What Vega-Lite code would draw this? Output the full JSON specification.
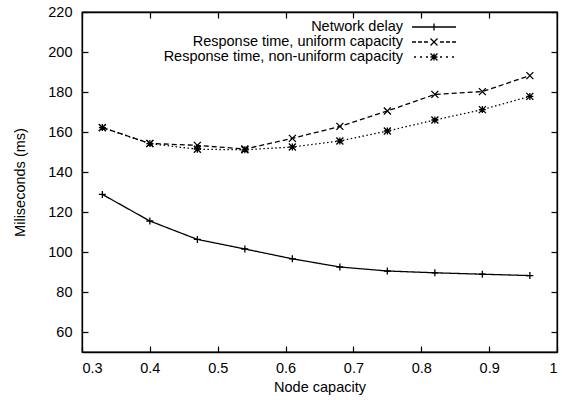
{
  "$schema": "https://vega.github.io/schema/vega-lite/v6.json",
  "width": 475,
  "height": 340,
  "autosize": {"type": "none"},
  "padding": {"left": 82, "top": 12, "right": 5, "bottom": 48},
  "background": "white",
  "config": {
    "font": "Liberation Sans",
    "view": {"stroke": "black", "strokeWidth": 1.3},
    "axis": {
      "grid": false,
      "domainColor": "black",
      "domainWidth": 1.3,
      "tickColor": "black",
      "tickWidth": 1.2,
      "tickSize": -6,
      "labelFont": "Liberation Sans",
      "labelFontSize": 14.5,
      "labelColor": "black",
      "titleFont": "Liberation Sans",
      "titleFontSize": 14.5,
      "titleFontWeight": "normal",
      "titleColor": "black"
    },
    "legend": {"padding": 0}
  },
  "data": {
    "values": [
      {"capacity": 0.33, "ms": 128.8, "series": "Network delay"},
      {"capacity": 0.40, "ms": 115.5, "series": "Network delay"},
      {"capacity": 0.47, "ms": 106.3, "series": "Network delay"},
      {"capacity": 0.54, "ms": 101.5, "series": "Network delay"},
      {"capacity": 0.61, "ms": 96.6, "series": "Network delay"},
      {"capacity": 0.68, "ms": 92.5, "series": "Network delay"},
      {"capacity": 0.75, "ms": 90.5, "series": "Network delay"},
      {"capacity": 0.82, "ms": 89.6, "series": "Network delay"},
      {"capacity": 0.89, "ms": 88.9, "series": "Network delay"},
      {"capacity": 0.96, "ms": 88.2, "series": "Network delay"},
      {"capacity": 0.33, "ms": 162.2, "series": "Response time, uniform capacity"},
      {"capacity": 0.40, "ms": 154.3, "series": "Response time, uniform capacity"},
      {"capacity": 0.47, "ms": 153.3, "series": "Response time, uniform capacity"},
      {"capacity": 0.54, "ms": 151.5, "series": "Response time, uniform capacity"},
      {"capacity": 0.61, "ms": 156.8, "series": "Response time, uniform capacity"},
      {"capacity": 0.68, "ms": 162.8, "series": "Response time, uniform capacity"},
      {"capacity": 0.75, "ms": 170.5, "series": "Response time, uniform capacity"},
      {"capacity": 0.82, "ms": 178.8, "series": "Response time, uniform capacity"},
      {"capacity": 0.89, "ms": 180.2, "series": "Response time, uniform capacity"},
      {"capacity": 0.96, "ms": 188.2, "series": "Response time, uniform capacity"},
      {"capacity": 0.33, "ms": 162.2, "series": "Response time, non-uniform capacity"},
      {"capacity": 0.40, "ms": 154.2, "series": "Response time, non-uniform capacity"},
      {"capacity": 0.47, "ms": 151.4, "series": "Response time, non-uniform capacity"},
      {"capacity": 0.54, "ms": 151.1, "series": "Response time, non-uniform capacity"},
      {"capacity": 0.61, "ms": 152.5, "series": "Response time, non-uniform capacity"},
      {"capacity": 0.68, "ms": 155.5, "series": "Response time, non-uniform capacity"},
      {"capacity": 0.75, "ms": 160.5, "series": "Response time, non-uniform capacity"},
      {"capacity": 0.82, "ms": 166.0, "series": "Response time, non-uniform capacity"},
      {"capacity": 0.89, "ms": 171.2, "series": "Response time, non-uniform capacity"},
      {"capacity": 0.96, "ms": 177.8, "series": "Response time, non-uniform capacity"}
    ]
  },
  "layer": [
    {
      "mark": {"type": "line", "color": "black", "strokeWidth": 1.3},
      "encoding": {
        "x": {
          "field": "capacity", "type": "quantitative",
          "scale": {"domain": [0.3, 1], "nice": false, "zero": false},
          "axis": {"orient": "bottom", "values": [0.3, 0.4, 0.5, 0.6, 0.7, 0.8, 0.9, 1], "format": "~g", "title": "Node capacity", "labelPadding": 15, "titlePadding": 6}
        },
        "y": {
          "field": "ms", "type": "quantitative",
          "scale": {"domain": [50, 220], "nice": false, "zero": false},
          "axis": {"orient": "left", "values": [60, 80, 100, 120, 140, 160, 180, 200, 220], "title": "Miliseconds (ms)", "labelPadding": 16, "titlePadding": 20}
        },
        "strokeDash": {
          "field": "series", "type": "nominal",
          "scale": {
            "domain": ["Network delay", "Response time, uniform capacity", "Response time, non-uniform capacity"],
            "range": [[1, 0], [5, 3], [1.5, 2.5]]
          },
          "legend": null
        }
      }
    },
    {
      "mark": {"type": "point", "filled": false, "stroke": "black", "strokeWidth": 1.3, "size": 49, "opacity": 1},
      "encoding": {
        "x": {
          "field": "capacity", "type": "quantitative",
          "axis": {"orient": "top", "values": [0.3, 0.4, 0.5, 0.6, 0.7, 0.8, 0.9, 1], "labels": false, "title": null}
        },
        "y": {
          "field": "ms", "type": "quantitative",
          "axis": {"orient": "right", "values": [60, 80, 100, 120, 140, 160, 180, 200, 220], "labels": false, "title": null}
        },
        "shape": {
          "field": "series", "type": "nominal",
          "scale": {
            "domain": ["Network delay", "Response time, uniform capacity", "Response time, non-uniform capacity"],
            "range": ["M-1,0H1M0,-1V1", "M-1,-1L1,1M-1,1L1,-1", "M-1,0H1M0,-1V1M-1,-1L1,1M-1,1L1,-1"]
          },
          "legend": null
        }
      }
    },
    {
      "mark": {"type": "point", "filled": false, "stroke": "black", "strokeWidth": 1.3, "size": 196, "opacity": 0},
      "encoding": {
        "x": {"field": "capacity", "type": "quantitative", "axis": null},
        "y": {"field": "ms", "type": "quantitative", "axis": null},
        "shape": {
          "field": "series", "type": "nominal",
          "scale": {
            "domain": ["Network delay", "Response time, uniform capacity", "Response time, non-uniform capacity"],
            "range": [
              "M-3.143,0H3.143M0,-0.5V0.5",
              "M-3.143,0H-2.571M-2.286,0H-1.714M-1.429,0H-0.857M0.857,0H1.429M1.714,0H2.286M2.571,0H3.143M-0.5,-0.5L0.5,0.5M-0.5,0.5L0.5,-0.5",
              "M-2.857,0H-2.571M-2,0H-1.714M-1.143,0H-0.857M0.857,0H1.143M1.714,0H2M2.571,0H2.857M-0.5,0H0.5M0,-0.5V0.5M-0.5,-0.5L0.5,0.5M-0.5,0.5L0.5,-0.5"
            ]
          },
          "legend": {
            "title": null,
            "orient": "none",
            "legendX": 76,
            "legendY": 7,
            "labelAlign": "right",
            "labelLimit": 0,
            "labelFont": "Liberation Sans",
            "labelFontSize": 14.5,
            "labelColor": "black",
            "labelOffset": -39,
            "symbolOffset": 268,
            "symbolSize": 196,
            "symbolStrokeWidth": 1.3,
            "symbolStrokeColor": "black",
            "symbolFillColor": "transparent",
            "symbolOpacity": 1,
            "rowPadding": -4
          }
        }
      }
    }
  ],
  "resolve": {"scale": {"shape": "independent"}, "axis": {"x": "independent", "y": "independent"}}
}
